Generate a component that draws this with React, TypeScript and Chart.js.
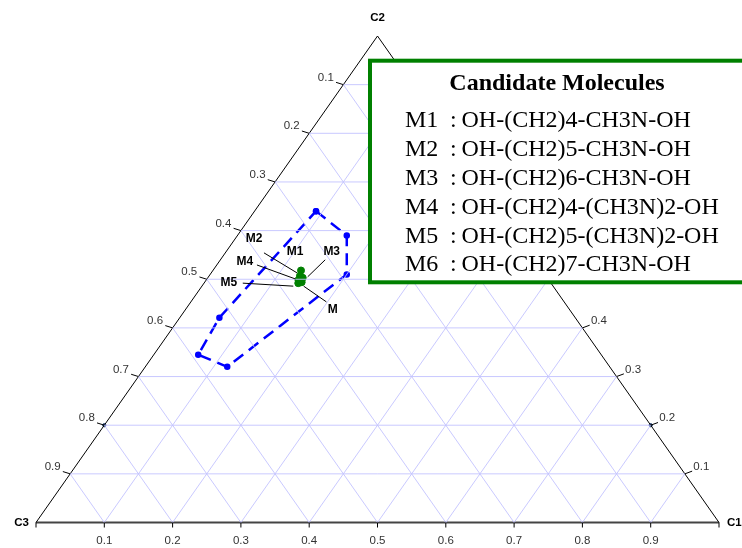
import React, { useEffect, useRef } from 'react';
import { Chart, registerables } from 'chart.js';

Chart.register(...registerables);

// ---------- data ----------
const vertexLabels = ['C1', 'C2', 'C3'];
const gridLevels = [0.1, 0.2, 0.3, 0.4, 0.5, 0.6, 0.7, 0.8, 0.9];
const tickLabels = ['0.1', '0.2', '0.3', '0.4', '0.5', '0.6', '0.7', '0.8', '0.9'];

// feasible region (dashed polygon), ternary fractions
const regionC1 = [0.09, 0.16, 0.2, 0.12, 0.065, 0.058];
const regionC2 = [0.64, 0.59, 0.51, 0.32, 0.345, 0.421];
const regionC3 = [0.27, 0.25, 0.29, 0.56, 0.59, 0.521];

// candidate molecules
const moleculeNames = ['M1', 'M2', 'M3', 'M4', 'M5', 'M'];
const moleculeC1 = [0.129, 0.133, 0.139, 0.135, 0.138, 0.142];
const moleculeC2 = [0.518, 0.507, 0.503, 0.4985, 0.492, 0.494];
const moleculeC3 = [0.353, 0.36, 0.358, 0.3665, 0.37, 0.364];

// small axis markers
const markerC1 = [0, 0.8];
const markerC2 = [0.2, 0.2];
const markerC3 = [0.8, 0];

// legend
const legendTitle = 'Candidate Molecules';
const legendKeys = ['M1', 'M2', 'M3', 'M4', 'M5', 'M6'];
const legendFormulas = [
  'OH-(CH2)4-CH3N-OH',
  'OH-(CH2)5-CH3N-OH',
  'OH-(CH2)6-CH3N-OH',
  'OH-(CH2)4-(CH3N)2-OH',
  'OH-(CH2)5-(CH3N)2-OH',
  'OH-(CH2)7-CH3N-OH',
];

// ---------- layout constants (pixel offsets for annotations) ----------
// [labelDx, labelDy, lineStartDx, lineStartDy, lineEndDx, lineEndDy] relative to point
const labelLayout: Record<string, number[] | null> = {
  M1: [-6, -19, 0, 0, 0, 0],
  M2: [-46, -37, -36, -23, -3, -3],
  M3: [29, -26, 22.5, -18, 5, -1],
  M4: [-53.5, -18, -41.5, -15, -3, -1],
  M5: [-69.5, 0, -55.5, 0, -5, 3],
  M: [31, 28, 24.7, 19.7, 2, 4],
};

function toXY(c1: number, c2: number, c3: number) {
  const s = c1 + c2 + c3;
  return { x: (c1 + c2 / 2) / s, y: c2 / s };
}

const FONT_SANS = '"Liberation Sans", Arial, sans-serif';
const FONT_SERIF = '"Liberation Serif", "Times New Roman", serif';

export default function App() {
  const canvasRef = useRef<HTMLCanvasElement | null>(null);

  useEffect(() => {
    if (!canvasRef.current) return;
    const gridColor = 'rgba(195,195,255,0.9)';
    const datasets: any[] = [];

    // grid lines: three families
    gridLevels.forEach((L) => {
      datasets.push({
        data: [toXY(L, 0, 1 - L), toXY(L, 1 - L, 0)],
        borderColor: gridColor, borderWidth: 1, pointRadius: 0, showLine: true, clip: false,
      });
      datasets.push({
        data: [toXY(0, L, 1 - L), toXY(1 - L, L, 0)],
        borderColor: gridColor, borderWidth: 1, pointRadius: 0, showLine: true, clip: false,
      });
      datasets.push({
        data: [toXY(1 - L, 0, L), toXY(0, 1 - L, L)],
        borderColor: gridColor, borderWidth: 1, pointRadius: 0, showLine: true, clip: false,
      });
    });

    // triangle side edges
    datasets.push({
      data: [toXY(0, 0, 1), toXY(0, 1, 0), toXY(1, 0, 0)],
      borderColor: '#000', borderWidth: 1, pointRadius: 0, showLine: true, clip: false,
    });
    // base edge
    datasets.push({
      data: [toXY(0, 0, 1), toXY(1, 0, 0)],
      borderColor: '#444', borderWidth: 2, pointRadius: 0, showLine: true, clip: false,
    });

    // region polygon
    const region = regionC1.map((c, i) => toXY(c, regionC2[i], regionC3[i]));
    region.push(region[0]);
    datasets.push({
      data: region,
      borderColor: '#0000ff', borderWidth: 2.5, borderDash: [12, 7],
      pointRadius: 2, pointBackgroundColor: '#0000ff', pointBorderColor: '#0000ff',
      showLine: true, clip: false,
    });

    // markers
    datasets.push({
      data: markerC1.map((c, i) => toXY(c, markerC2[i], markerC3[i])),
      pointRadius: 1.6, pointBackgroundColor: '#1a3a6a', pointBorderColor: '#1a3a6a',
      showLine: false, clip: false,
    });

    // molecules
    datasets.push({
      data: moleculeC1.map((c, i) => toXY(c, moleculeC2[i], moleculeC3[i])),
      pointRadius: 3.5, pointBackgroundColor: '#008000', pointBorderColor: '#008000',
      pointBorderWidth: 1, showLine: false, clip: false,
    });
    const moleculeIndex = datasets.length - 1;

    const overlay = {
      id: 'ternaryOverlay',
      afterDatasetsDraw(chart: any) {
        const ctx = chart.ctx as CanvasRenderingContext2D;
        const xs = chart.scales.x;
        const ys = chart.scales.y;
        const P = (c1: number, c2: number, c3: number) => {
          const p = toXY(c1, c2, c3);
          return { x: xs.getPixelForValue(p.x), y: ys.getPixelForValue(p.y) };
        };
        ctx.save();

        ctx.strokeStyle = '#000';
        ctx.lineWidth = 1;
        ctx.fillStyle = '#333';
        ctx.font = `11.5px ${FONT_SANS}`;
        // base ticks (C1)
        [0, ...gridLevels, 1].forEach((L) => {
          const p = P(L, 0, 1 - L);
          ctx.beginPath();
          ctx.moveTo(p.x, p.y);
          ctx.lineTo(p.x, p.y + 5);
          ctx.stroke();
        });
        ctx.textAlign = 'center';
        ctx.textBaseline = 'middle';
        gridLevels.forEach((L, i) => {
          const p = P(L, 0, 1 - L);
          ctx.fillText(tickLabels[i], p.x, p.y + 18);
        });
        // left ticks (C3)
        ctx.textAlign = 'right';
        gridLevels.forEach((L, i) => {
          const p = P(0, 1 - L, L);
          ctx.beginPath();
          ctx.moveTo(p.x, p.y);
          ctx.lineTo(p.x - 7.3, p.y - 2.3);
          ctx.stroke();
          ctx.fillText(tickLabels[i], p.x - 9.5, p.y - 7);
        });
        // right ticks (C2)
        ctx.textAlign = 'left';
        gridLevels.forEach((L, i) => {
          const p = P(1 - L, L, 0);
          ctx.beginPath();
          ctx.moveTo(p.x, p.y);
          ctx.lineTo(p.x + 7.3, p.y - 2.7);
          ctx.stroke();
          ctx.fillText(tickLabels[i], p.x + 8.5, p.y - 7);
        });

        // vertex labels
        ctx.fillStyle = '#000';
        ctx.font = `bold 11.5px ${FONT_SANS}`;
        const v1 = P(1, 0, 0);
        const v2 = P(0, 1, 0);
        const v3 = P(0, 0, 1);
        ctx.textAlign = 'left';
        ctx.fillText(vertexLabels[0], v1.x + 8, v1.y);
        ctx.textAlign = 'center';
        ctx.fillText(vertexLabels[1], v2.x, v2.y - 18);
        ctx.textAlign = 'right';
        ctx.fillText(vertexLabels[2], v3.x - 7, v3.y);

        // molecule labels and leader lines
        const meta = chart.getDatasetMeta(moleculeIndex);
        ctx.font = `bold 12px ${FONT_SANS}`;
        ctx.textAlign = 'center';
        ctx.textBaseline = 'middle';
        moleculeNames.forEach((name, i) => {
          const el = meta.data[i];
          const lay = labelLayout[name];
          if (!el || !lay) return;
          const px = el.x;
          const py = el.y;
          if (lay[2] !== 0 || lay[3] !== 0) {
            ctx.beginPath();
            ctx.moveTo(px + lay[2], py + lay[3]);
            ctx.lineTo(px + lay[4], py + lay[5]);
            ctx.strokeStyle = '#000';
            ctx.lineWidth = 1;
            ctx.stroke();
          }
          ctx.fillStyle = '#000';
          ctx.fillText(name, px + lay[0], py + lay[1]);
        });

        // legend box
        const bx = 370, by = 60.7, bw = 380, bh = 221.6;
        ctx.fillStyle = '#fff';
        ctx.fillRect(bx, by, bw, bh);
        ctx.strokeStyle = '#008000';
        ctx.lineWidth = 4;
        ctx.strokeRect(bx, by, bw, bh);

        ctx.fillStyle = '#000';
        ctx.textBaseline = 'alphabetic';
        ctx.textAlign = 'center';
        ctx.font = `bold 24px ${FONT_SERIF}`;
        ctx.fillText(legendTitle, 557, 90);
        ctx.font = `24px ${FONT_SERIF}`;
        ctx.textAlign = 'left';
        legendKeys.forEach((k, i) => {
          const yb = 127.3 + i * 28.8;
          ctx.fillText(k, 405, yb);
          ctx.fillText(':', 450, yb);
          ctx.fillText(legendFormulas[i], 461.5, yb);
        });

        ctx.restore();
      },
    };

    const chart = new Chart(canvasRef.current, {
      type: 'scatter',
      data: { datasets },
      options: {
        responsive: true,
        maintainAspectRatio: false,
        animation: false,
        layout: { padding: { left: 36, right: 23, top: 36, bottom: 25.5 } },
        scales: {
          x: { type: 'linear', min: 0, max: 1, display: false },
          y: { type: 'linear', min: 0, max: 1, display: false },
        },
        plugins: {
          legend: { display: false },
          tooltip: { enabled: false },
        },
        events: [],
      },
      plugins: [overlay],
    });
    return () => chart.destroy();
  }, []);

  return (
    <div style={{ position: 'absolute', left: 0, top: 0, width: 742, height: 548, background: '#fff' }}>
      <canvas ref={canvasRef} />
    </div>
  );
}
